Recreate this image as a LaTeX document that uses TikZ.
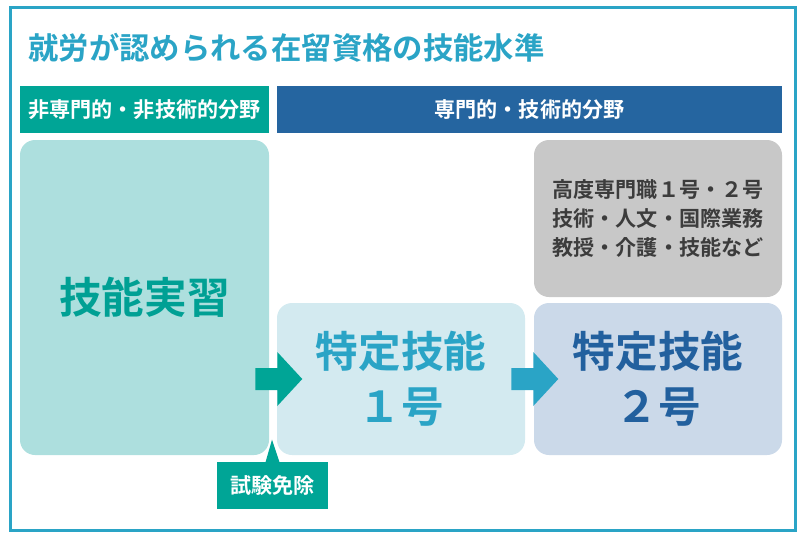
\documentclass[tikz,border=0pt]{standalone}
\usepackage{fontspec}
\setmainfont{Noto Sans CJK JP}[BoldFont={Noto Sans CJK JP Bold}]
\usetikzlibrary{positioning,calc}

\definecolor{frameC}{RGB}{42,164,198}
\definecolor{tealC}{RGB}{0,165,150}
\definecolor{blueC}{RGB}{37,101,160}
\definecolor{kenshuF}{RGB}{173,223,222}
\definecolor{kenshuT}{RGB}{0,160,148}
\definecolor{tokAF}{RGB}{211,234,240}
\definecolor{tokAT}{RGB}{42,164,198}
\definecolor{tokBF}{RGB}{203,217,233}
\definecolor{tokBT}{RGB}{34,96,158}
\definecolor{grayF}{RGB}{200,200,200}
\definecolor{grayT}{RGB}{60,60,60}

\tikzset{
  hdr/.style={fill=#1,text=white,inner sep=0pt,minimum height=47*0.025cm,
    font=\bfseries\fontsize{15}{18}\selectfont},
  stage/.style={rounded corners=0.375cm,inner sep=0pt,align=center,
    minimum width=248*0.025cm,font=\bfseries\fontsize{30.3}{39}\selectfont},
  blockarr/.style={fill=#1,draw=none}
}

\begin{document}
\begin{tikzpicture}[x=0.025cm,y=-0.025cm]
  \useasboundingbox (0,0) rectangle (808,542);
  \draw[frameC,line width=3*0.025cm] (10.5,7.5) rectangle (795.5,530.5);
  \node[anchor=west,inner sep=0pt,text=frameC,font=\bfseries\fontsize{21.6}{26}\selectfont]
    (title) at (28,48) {就労が認められる在留資格の技能水準};
  % headers
  \node[hdr=tealC,minimum width=249*0.025cm] (hdrA) at (144.5,109.5) {非専門的・非技術的分野};
  \node[hdr=blueC,minimum width=505*0.025cm] (hdrB) at (529.5,109.5) {専門的・技術的分野};
  % stages
  \node[stage,fill=kenshuF,text=kenshuT,minimum width=249*0.025cm,minimum height=315*0.025cm]
    (kenshu) at (144.5,297.5) {技能実習};
  \node[stage,fill=tokAF,text=tokAT,minimum height=152*0.025cm] (tok1) at (401,379) {特定技能\\１号};
  \node[stage,fill=tokBF,text=tokBT,minimum height=152*0.025cm] (tok2) at (658,379) {特定技能\\２号};
  \node[stage,fill=grayF,text=grayT,minimum height=157*0.025cm,
    font=\bfseries\fontsize{15}{20.6}\selectfont] (other) at (658,218.5)
    {高度専門職１号・２号\\技術・人文・国際業務\\教授・介護・技能など};
  % arrows between stages
  \foreach \s/\c in {kenshu/tealC,tok1/frameC}{
    \coordinate (a) at ($(\s.east |- tok1.west)+(-14,0)$);
    \fill[blockarr=\c] (a) ++(0,-11) -- ++(22,0) -- ++(0,-16) -- ++(25,27)
      -- ++(-25,27) -- ++(0,-16) -- ++(-22,0) -- cycle;}
  % callout
  \node[hdr=tealC,minimum width=111*0.025cm] (menjo) at (272.5,485.5) {試験免除};
  \coordinate (tip) at ($(menjo.north)+(-0.5,-22)$);
  \fill[tealC] ($(menjo.north)+(-7,0.5)$) -- (tip) -- ($(menjo.north)+(7,0.5)$) -- cycle;
\end{tikzpicture}
\end{document}
